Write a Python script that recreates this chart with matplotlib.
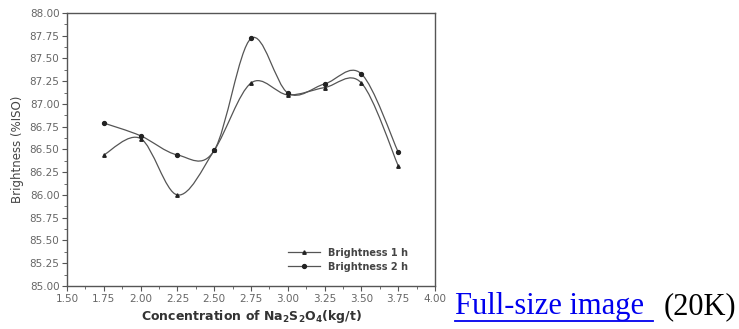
import numpy as np
import matplotlib
matplotlib.use("Agg")
import matplotlib.pyplot as plt
from matplotlib.path import Path
from matplotlib.patches import PathPatch
from matplotlib.ticker import AutoMinorLocator

# --- data ---
conc = [1.75, 2.00, 2.25, 2.50, 2.75, 3.00, 3.25, 3.50, 3.75]
bright_1h = [86.44, 86.62, 86.00, 86.49, 87.23, 87.10, 87.18, 87.23, 86.32]
bright_2h = [86.79, 86.65, 86.44, 86.49, 87.72, 87.12, 87.22, 87.33, 86.47]
xticks = [1.50, 1.75, 2.00, 2.25, 2.50, 2.75, 3.00, 3.25, 3.50, 3.75, 4.00]
yticks = [85.00, 85.25, 85.50, 85.75, 86.00, 86.25, 86.50, 86.75, 87.00, 87.25, 87.50, 87.75, 88.00]

grey = "#555555"


def smooth_path(xs, ys):
    # Catmull-Rom curve through the points, given to matplotlib as bezier segments
    p = np.column_stack([xs, ys]).astype(float)
    p = np.vstack([p[0], p, p[-1]])
    verts = [p[1]]
    codes = [Path.MOVETO]
    for i in range(1, len(p) - 2):
        c1 = p[i] + (p[i + 1] - p[i - 1]) / 6
        c2 = p[i + 1] - (p[i + 2] - p[i]) / 6
        verts += [c1, c2, p[i + 1]]
        codes += [Path.CURVE4] * 3
    return Path(verts, codes)


fig = plt.figure(figsize=(7.39, 3.29), dpi=100)
ax = fig.add_axes([0.0907, 0.1307, 0.498, 0.830])

for ys, mk, ms, lab in [(bright_1h, "^", 2.5, "Brightness 1 h"),
                        (bright_2h, "o", 2.8, "Brightness 2 h")]:
    ax.add_patch(PathPatch(smooth_path(conc, ys), fill=False, ec=grey, lw=0.9))
    ax.plot(conc, ys, ls="none", marker=mk, ms=ms, color="#222222")
    ax.plot([], [], color=grey, lw=0.9, marker=mk, ms=ms, mfc="#222222", mec="#222222", label=lab)

ax.set_xlim(1.5, 4.0)
ax.set_ylim(85.0, 88.0)
ax.set_xticks(xticks)
ax.set_yticks(yticks)
ax.set_xticklabels([f"{t:.2f}" for t in xticks])
ax.set_yticklabels([f"{t:.2f}" for t in yticks])
ax.xaxis.set_minor_locator(AutoMinorLocator(2))
ax.yaxis.set_minor_locator(AutoMinorLocator(2))
ax.tick_params(which="both", direction="out", color=grey, top=False, right=False)
ax.tick_params(which="major", length=3.5, width=0.8, labelsize=7.5, labelcolor="#666666", pad=2)
ax.tick_params(which="minor", length=2, width=0.6)
for s in ax.spines.values():
    s.set_color(grey)
    s.set_linewidth(1.0)

ax.set_xlabel(r"Concentration of Na$_\mathbf{2}$S$_\mathbf{2}$O$_\mathbf{4}$(kg/t)",
              fontsize=9, fontweight="bold", color="#333333", labelpad=3)
ax.set_ylabel("Brightness (%ISO)", fontsize=8.5, color="#444444", labelpad=4)

leg = ax.legend(loc="lower right", frameon=False, fontsize=7, handlelength=3.3,
                bbox_to_anchor=(0.95, 0.02), labelspacing=0.4)
for t in leg.get_texts():
    t.set_color("#444444")
    t.set_fontweight("bold")

fig.text(455 / 739, 1 - 314 / 329, "Full-size image", color="#0000ee",
         family="Liberation Serif", fontsize=22, ha="left", va="baseline")
fig.text(1 - 3 / 739, 1 - 314 / 329, "(20K)", color="black",
         family="Liberation Serif", fontsize=22, ha="right", va="baseline")
fig.add_artist(plt.Line2D([455 / 739, 653 / 739], [1 - 321 / 329] * 2,
                          color="#0000ee", lw=1.3))

fig.savefig("out.png", dpi=100)
